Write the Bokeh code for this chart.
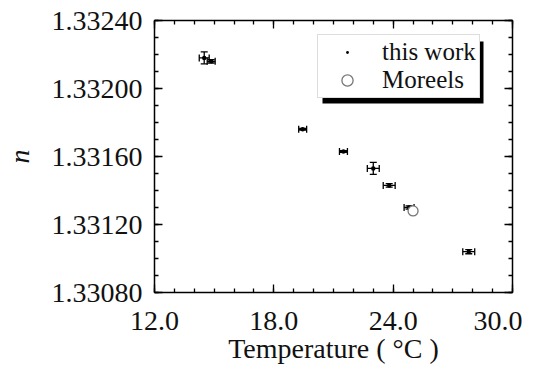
from bokeh.plotting import figure
from bokeh.models import (ColumnDataSource, Whisker, TeeHead, LinearAxis, FixedTicker,
                          PrintfTickFormatter, Legend, LegendItem, Range1d, BoxAnnotation)
from bokeh.embed import file_html
from bokeh.resources import INLINE

# data: this work
temp = [14.5, 14.85, 19.45, 21.5, 23.0, 23.8, 24.8, 27.8]
n_val = [1.33218, 1.33216, 1.33176, 1.33163, 1.33153, 1.33143, 1.33130, 1.33104]
temp_err = [0.25, 0.2, 0.2, 0.2, 0.3, 0.3, 0.25, 0.3]
n_err = [0.000035, 0.00001, 0.000005, 0.000005, 0.000035, 0.00001, 0.00001, 0.000012]

# Moreels
m_temp = [25.0]
m_n = [1.33128]

x_ticks = [12.0, 18.0, 24.0, 30.0]
y_ticks = [1.33080, 1.33120, 1.33160, 1.33200, 1.33240]
x_minor = list(range(12, 31))
y_minor = [round(1.33080 + i * 0.0001, 5) for i in range(17)]

x_title = "Temperature ( \u00b0C )"
y_title = "n"

FONT = "Liberation Serif"

p = figure(width=522, height=366, output_backend="svg", toolbar_location=None,
           x_range=Range1d(12.0, 30.0), y_range=Range1d(1.33080, 1.33240),
           min_border_left=144, min_border_right=10, min_border_top=20, min_border_bottom=74)
p.outline_line_color = None
p.xgrid.visible = False
p.ygrid.visible = False

src = ColumnDataSource(dict(
    x=temp, y=n_val,
    xl=[a - b for a, b in zip(temp, temp_err)], xu=[a + b for a, b in zip(temp, temp_err)],
    yl=[a - b for a, b in zip(n_val, n_err)], yu=[a + b for a, b in zip(n_val, n_err)],
))
msrc = ColumnDataSource(dict(x=m_temp, y=m_n))

def head():
    return TeeHead(size=7, line_color="black", line_width=1.3)

wy = Whisker(source=src, base="x", lower="yl", upper="yu", dimension="height",
             line_color="black", line_width=1.3, upper_head=head(), lower_head=head())
wx = Whisker(source=src, base="y", lower="xl", upper="xu", dimension="width",
             line_color="black", line_width=1.3, upper_head=head(), lower_head=head())
p.add_layout(wy)
p.add_layout(wx)

r1 = p.scatter("x", "y", source=src, marker="dot", size=18, color="black", line_width=1.5)
r2 = p.scatter("x", "y", source=msrc, size=10, fill_color="white", line_color="#777777",
               line_width=1.3)

def style_axis(ax, labels=True):
    ax.axis_line_color = "black"
    ax.axis_line_width = 1.5
    ax.major_tick_in = 8
    ax.major_tick_out = 0
    ax.minor_tick_in = 4
    ax.minor_tick_out = 0
    ax.major_tick_line_color = "black"
    ax.minor_tick_line_color = "black"
    ax.major_tick_line_width = 1.3
    ax.minor_tick_line_width = 1.3
    ax.major_label_text_font = FONT
    ax.major_label_text_font_size = "28px"
    ax.major_label_text_color = "#111111" if labels else None
    ax.axis_label_text_font = FONT
    ax.axis_label_text_font_size = "28px"
    ax.axis_label_text_color = "#111111"
    ax.axis_label_text_font_style = "normal"

xa = p.xaxis[0]
xa.ticker = FixedTicker(ticks=x_ticks, minor_ticks=x_minor)
xa.formatter = PrintfTickFormatter(format="%.1f")
xa.axis_label = x_title
style_axis(xa)
xa.major_label_standoff = 19
xa.axis_label_standoff = 0

ya = p.yaxis[0]
ya.ticker = FixedTicker(ticks=y_ticks, minor_ticks=y_minor)
ya.formatter = PrintfTickFormatter(format="%.5f")
ya.axis_label = y_title
style_axis(ya)
ya.axis_label_text_font_style = "italic"
ya.major_label_standoff = 12
ya.axis_label_standoff = 14

top = LinearAxis(ticker=FixedTicker(ticks=x_ticks, minor_ticks=x_minor))
style_axis(top, labels=False)
right = LinearAxis(ticker=FixedTicker(ticks=y_ticks, minor_ticks=y_minor))
style_axis(right, labels=False)
for ax in (top, right):
    ax.major_label_text_font_size = "0px"
    ax.major_label_standoff = 0
p.add_layout(top, "above")
p.add_layout(right, "right")

# legend shadow (offset black box behind the legend)
shadow = BoxAnnotation(left=168, right=329, bottom=189, top=251,
                       left_units="screen", right_units="screen",
                       bottom_units="screen", top_units="screen",
                       fill_color="black", fill_alpha=1.0, line_color=None)
p.add_layout(shadow)

leg = Legend(items=[LegendItem(label="this work", renderers=[r1]),
                    LegendItem(label="Moreels", renderers=[r2])])
leg.label_text_font = FONT
leg.label_text_font_size = "25px"
leg.label_text_color = "#111111"
leg.glyph_width = 52
leg.glyph_height = 28
leg.label_height = 28
leg.label_standoff = 9
leg.padding = 3
leg.spacing = 0
leg.margin = 0
leg.border_line_color = "#bbbbbb"
leg.border_line_width = 1.3
leg.background_fill_color = "white"
leg.background_fill_alpha = 1.0
leg.location = (163, 194)
p.add_layout(leg, "center")

open("out.html", "w").write(file_html(p, INLINE))
